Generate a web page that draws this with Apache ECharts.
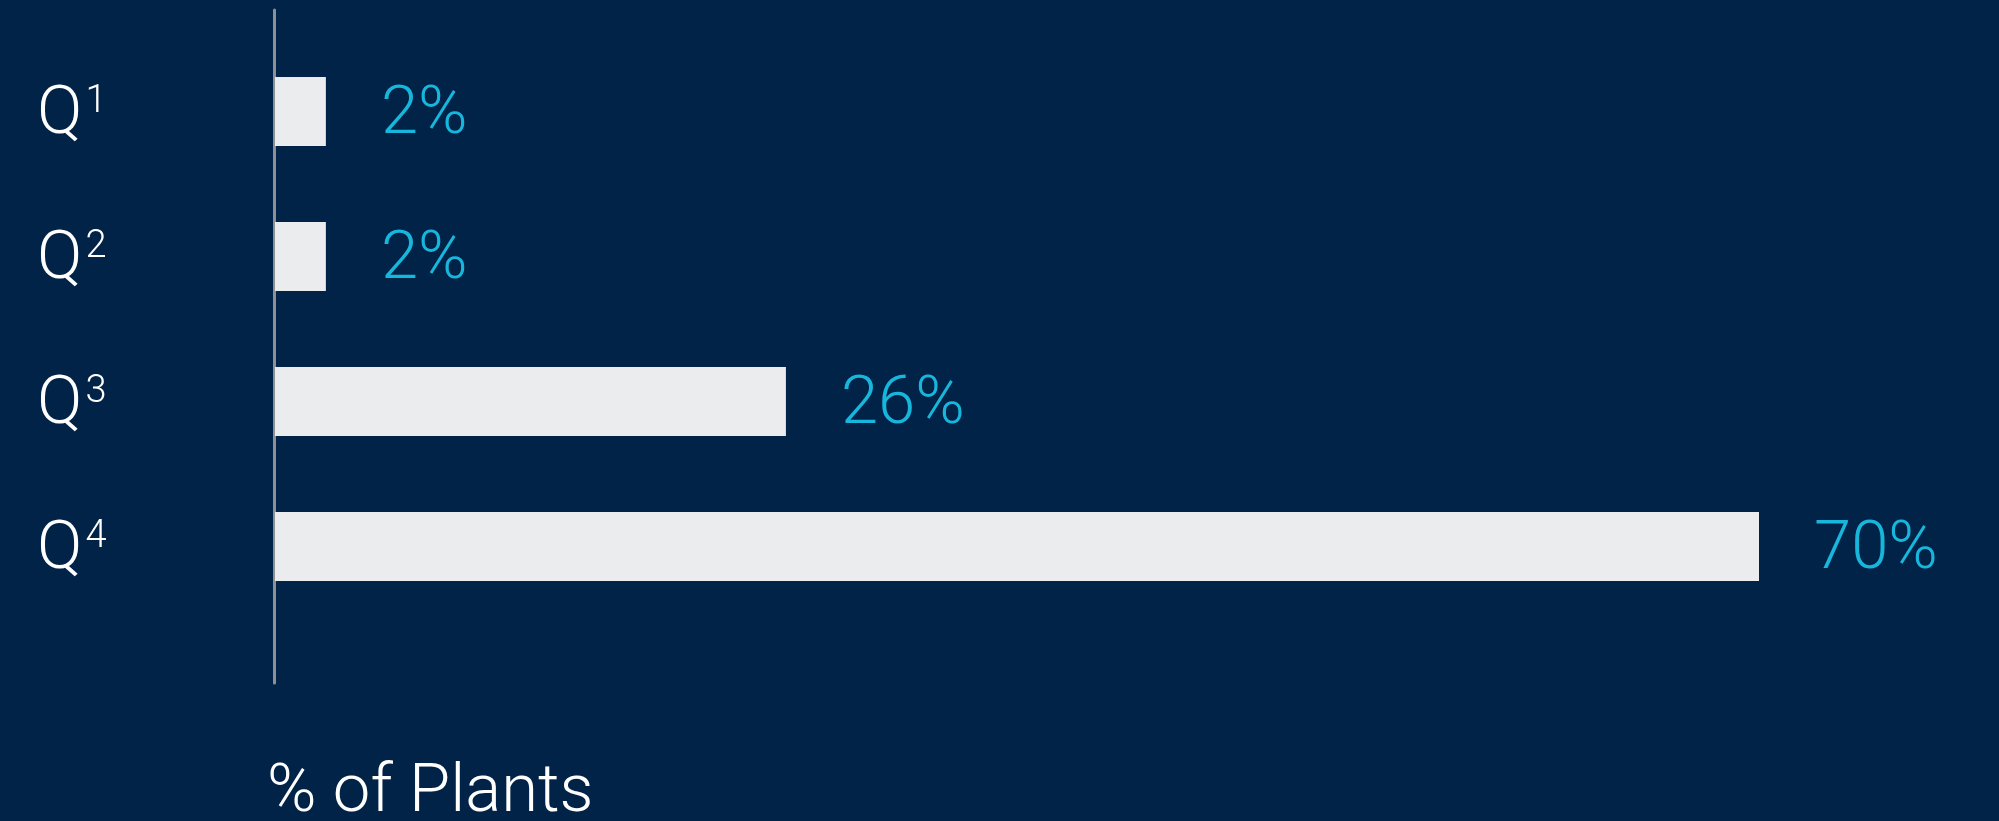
<!DOCTYPE html>
<html>
<head>
<meta charset="utf-8">
<style>
  html, body { margin: 0; padding: 0; background: #002347; }
  #plantChart { width: 1999px; height: 821px; }
</style>
<script src="https://cdn.jsdelivr.net/npm/echarts@6/dist/echarts.min.js"></script>
</head>
<body>
<div id="plantChart"></div>
<script>
// quartiles, top to bottom
const categories = ["1", "2", "3", "4"];
// bar lengths as drawn
const barValues = [2.4, 2.4, 24.1, 70];
// printed share of plants
const valueLabels = ["2%", "2%", "26%", "70%"];

const FONT = "Roboto";

let myChart = echarts.init(document.getElementById("plantChart"));

myChart.setOption({
  backgroundColor: "#002347",
  animation: false,
  title: {
    text: "% of Plants",
    left: 262,
    top: 756,
    textStyle: {
      color: "#ffffff",
      fontFamily: FONT,
      fontWeight: 300,
      fontSize: 67
    }
  },
  grid: [
    { left: 275, top: 39, width: 1696, height: 580 },
    { left: 274, top: 10, width: 10, height: 673 }
  ],
  xAxis: [
    {
      type: "value",
      gridIndex: 0,
      min: 0,
      max: 80,
      show: false
    },
    {
      type: "value",
      gridIndex: 1,
      show: false
    }
  ],
  yAxis: [
    {
      type: "category",
      gridIndex: 0,
      inverse: true,
      data: categories,
      axisLine: { show: false },
      axisTick: { show: false },
      axisLabel: {
        align: "left",
        margin: 238,
        padding: [10, 0, 0, 0],
        formatter: function(v) {
          return "{q|Q}{s|" + v + "}";
        },
        rich: {
          q: {
            color: "#ffffff",
            fontFamily: FONT,
            fontWeight: 300,
            fontSize: 67,
            lineHeight: 67
          },
          s: {
            color: "#ffffff",
            fontFamily: FONT,
            fontWeight: 300,
            fontSize: 38,
            lineHeight: 38,
            verticalAlign: "top",
            padding: [0, 0, 4, 3]
          }
        }
      }
    },
    {
      // the long vertical axis line
      type: "value",
      gridIndex: 1,
      axisLine: { show: true, lineStyle: { color: "#8c9196", width: 3 } },
      axisTick: { show: false },
      axisLabel: { show: false },
      splitLine: { show: false }
    }
  ],
  series: [
    {
      type: "bar",
      xAxisIndex: 0,
      yAxisIndex: 0,
      barWidth: 69,
      itemStyle: { color: "#ebecee" },
      label: {
        show: true,
        position: "right",
        distance: 55,
        offset: [0, 5],
        color: "#17b6dc",
        fontFamily: FONT,
        fontWeight: 300,
        fontSize: 67,
        formatter: function(p) {
          return valueLabels[p.dataIndex];
        }
      },
      data: barValues
    }
  ]
});
</script>
</body>
</html>
